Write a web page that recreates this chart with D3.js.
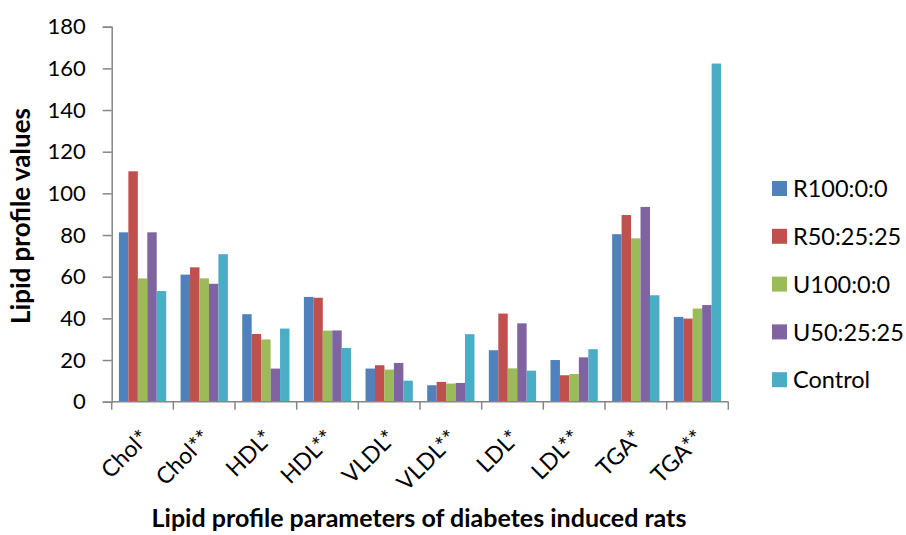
<!DOCTYPE html>
<html>
<head>
<meta charset="utf-8">
<script src="https://cdn.jsdelivr.net/npm/d3@7"></script>
<style>
  body { margin: 0; background: #fff; }
  text { font-family: Lato, "Open Sans", sans-serif; fill: #000; }
</style>
</head>
<body>
<svg width="906" height="535"></svg>
<script>
// categories on the x axis
const categories = ["Chol*", "Chol**", "HDL*", "HDL**", "VLDL*", "VLDL**", "LDL*", "LDL**", "TGA*", "TGA**"];
const seriesNames = ["R100:0:0", "R50:25:25", "U100:0:0", "U50:25:25", "Control"];
const colors = ["#4F81BD", "#C0504D", "#9BBB59", "#8064A2", "#4BACC6"];

// values, one array per series
const r100 = [81.3, 61.0, 42.0, 50.3, 15.9, 7.9, 24.7, 20.0, 80.4, 40.7];
const r50 = [110.6, 64.5, 32.5, 49.9, 17.5, 9.5, 42.3, 12.7, 89.6, 39.9];
const u100 = [59.2, 59.2, 29.9, 34.1, 15.4, 8.7, 16.0, 13.3, 78.4, 44.7];
const u50 = [81.3, 56.6, 15.9, 34.2, 18.6, 9.0, 37.6, 21.3, 93.5, 46.4];
const control = [53.1, 70.8, 35.1, 25.8, 10.1, 32.4, 14.9, 25.2, 51.1, 162.3];
const yTicks = [0, 20, 40, 60, 80, 100, 120, 140, 160, 180];

const series = [r100, r50, u100, u50, control];

const svg = d3.select("svg");
const plotL = 111.7, plotR = 728.3, plotT = 26.7, plotB = 401.7;
const axisColor = "#868686";

const x = d3.scaleBand().domain(categories).range([plotL, plotR]).paddingInner(0.233).paddingOuter(0.117);
const x1 = d3.scaleBand().domain(d3.range(seriesNames.length)).range([0, x.bandwidth()]);
const y = d3.scaleLinear().domain([0, 180]).range([plotB, plotT]);

// bars
const groups = svg.append("g").selectAll("g")
  .data(categories)
  .join("g")
  .attr("transform", c => `translate(${x(c)},0)`);

groups.selectAll("rect")
  .data((c, i) => series.map((s, k) => ({k: k, v: s[i]})))
  .join("rect")
  .attr("x", d => x1(d.k))
  .attr("width", x1.bandwidth())
  .attr("y", d => y(d.v))
  .attr("height", d => y(0) - y(d.v))
  .attr("fill", d => colors[d.k]);

// y axis
const yAxis = svg.append("g")
  .attr("transform", `translate(${plotL},0)`)
  .call(d3.axisLeft(y).tickValues(yTicks).tickSize(9).tickPadding(17));
yAxis.selectAll("text").style("font-size", "22px").style("font-family", "Lato, sans-serif").attr("fill", "#000");
yAxis.selectAll("line, path").attr("stroke", axisColor).attr("stroke-width", 1.5);

// x axis: ticks between categories
const step = (plotR - plotL) / categories.length;
svg.append("line")
  .attr("x1", plotL).attr("x2", plotR)
  .attr("y1", plotB).attr("y2", plotB)
  .attr("stroke", axisColor).attr("stroke-width", 1.5);
svg.append("g").selectAll("line")
  .data(d3.range(categories.length + 1))
  .join("line")
  .attr("x1", i => plotL + i * step).attr("x2", i => plotL + i * step)
  .attr("y1", plotB).attr("y2", plotB + 8)
  .attr("stroke", axisColor).attr("stroke-width", 1.5);

// rotated category labels
svg.append("g").selectAll("text")
  .data(categories)
  .join("text")
  .attr("transform", c => `translate(${x(c) + x.bandwidth() / 2 + 8},${plotB + 38}) rotate(-45)`)
  .attr("text-anchor", "end")
  .style("font-size", "23px")
  .text(d => d);

// axis titles
svg.append("text")
  .attr("transform", `translate(30,216) rotate(-90)`)
  .attr("text-anchor", "middle")
  .style("font-size", "26px").style("font-weight", "bold")
  .text("Lipid profile values");

svg.append("text")
  .attr("x", 419).attr("y", 527)
  .attr("text-anchor", "middle")
  .style("font-size", "25px").style("font-weight", "bold")
  .text("Lipid profile parameters of diabetes induced rats");

// legend
const legend = svg.append("g").selectAll("g")
  .data(seriesNames)
  .join("g")
  .attr("transform", (d, i) => `translate(772,${189 + i * 47.8})`);
legend.append("rect")
  .attr("x", 0).attr("y", -8).attr("width", 15).attr("height", 15)
  .attr("fill", (d, i) => colors[i]);
legend.append("text")
  .attr("x", 21).attr("y", 0).attr("dy", "0.35em")
  .style("font-size", "23.5px")
  .text(d => d);
</script>
</body>
</html>
